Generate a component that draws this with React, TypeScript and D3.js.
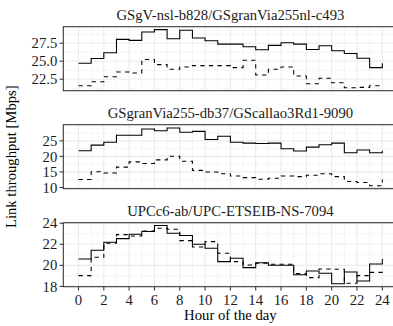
import React from "react";
import * as d3 from "d3";

const hours = d3.range(0, 25);
const xTicks = [0, 2, 4, 6, 8, 10, 12, 14, 16, 18, 20, 22, 24];

const titles = [
  "GSgV-nsl-b828/GSgranVia255nl-c493",
  "GSgranVia255-db37/GScallao3Rd1-9090",
  "UPCc6-ab/UPC-ETSEIB-NS-7094",
];

const p1Solid = [24.72, 25.37, 26.17, 28.04, 27.9, 29.07, 29.39, 28.13, 29.3, 28.22, 27.85, 27.38, 27.38, 27.0, 26.59, 27.2, 27.57, 27.38, 26.64, 27.15, 26.45, 26.07, 25.42, 24.11, 24.72];
const p1Dashed = [21.59, 22.15, 22.85, 23.5, 23.36, 25.23, 24.53, 23.88, 24.2, 24.39, 24.39, 24.39, 24.11, 25.14, 23.08, 23.88, 24.2, 22.94, 21.87, 22.62, 22.0, 21.31, 21.36, 21.59, 21.59];

const p2Solid = [21.83, 23.63, 24.58, 26.8, 26.8, 28.8, 28.27, 29.12, 27.75, 28.06, 25.42, 26.48, 24.58, 24.26, 24.16, 24.26, 22.47, 21.73, 22.99, 23.73, 24.26, 21.2, 22.04, 21.2, 21.83];
const p2Dashed = [12.54, 15.07, 14.65, 16.55, 18.24, 17.71, 18.88, 20.04, 18.45, 15.5, 14.97, 14.44, 13.7, 13.17, 12.64, 12.96, 13.7, 13.49, 13.91, 14.44, 13.49, 11.91, 11.59, 10.53, 12.54];

const p3Solid = [20.6, 21.43, 22.19, 22.54, 22.95, 23.21, 23.78, 23.05, 22.83, 22.0, 21.62, 20.35, 20.67, 19.78, 20.25, 20.0, 20.0, 19.11, 19.46, 19.24, 18.25, 19.37, 18.51, 20.13, 20.6];
const p3Dashed = [19.02, 20.76, 22.1, 22.92, 22.79, 23.27, 23.52, 23.43, 22.35, 21.75, 22.25, 21.14, 20.35, 20.03, 20.19, 20.1, 20.1, 19.21, 18.83, 19.65, 19.62, 18.29, 19.02, 19.33, 19.02];

const p1Ticks = [22.5, 25.0, 27.5];
const p2Ticks = [10, 15, 20, 25];
const p3Ticks = [18, 20, 22, 24];

const panels = [
  { title: titles[0], solid: p1Solid, dashed: p1Dashed, ticks: p1Ticks, domain: [20.9, 29.8], fmt: ".1f" },
  { title: titles[1], solid: p2Solid, dashed: p2Dashed, ticks: p2Ticks, domain: [9.6, 30.2], fmt: "d" },
  { title: titles[2], solid: p3Solid, dashed: p3Dashed, ticks: p3Ticks, domain: [17.97, 24.05], fmt: "d" },
];

const W = 393;
const H = 326;
const left = 63.3;
const right = 397.5;
const panelH = 64;
const tops = [26.7, 124.7, 222.7];
const font = "'Liberation Serif', 'Times New Roman', serif";
const fs = 14.7;
const grid = "#EBEBEB";
const dark = "#333333";

export default function App() {
  const x = d3.scaleLinear().domain([-1.2, 25.2]).range([left, right]);
  const xMinor = d3.range(1, 25, 2);
  return (
    <svg width={W} height={H} style={{ display: "block", position: "absolute", left: 0, top: 0 }} fontFamily={font}>
      <rect width={W} height={H} fill="white" />
      {panels.map((p, i) => {
        const top = tops[i];
        const bottom = top + panelH;
        const y = d3.scaleLinear().domain(p.domain).range([bottom, top]);
        const step = p.ticks[1] - p.ticks[0];
        const minor = d3
          .range(p.ticks[0] - step / 2, p.ticks[p.ticks.length - 1] + step, step)
          .filter((v) => v > p.domain[0] && v < p.domain[1]);
        const line = d3
          .line<number>()
          .x((_, j) => x(hours[j]))
          .y((v) => y(v))
          .curve(d3.curveStepAfter);
        const f = d3.format(p.fmt);
        return (
          <g key={i}>
            <rect x={left} y={top} width={right - left} height={panelH} fill="white" />
            {minor.map((v) => (
              <line key={"ym" + v} x1={left} x2={right} y1={y(v)} y2={y(v)} stroke={grid} strokeWidth={0.55} />
            ))}
            {xMinor.map((h) => (
              <line key={"xm" + h} x1={x(h)} x2={x(h)} y1={top} y2={bottom} stroke={grid} strokeWidth={0.55} />
            ))}
            {p.ticks.map((v) => (
              <line key={"yM" + v} x1={left} x2={right} y1={y(v)} y2={y(v)} stroke={grid} strokeWidth={1.1} />
            ))}
            {xTicks.map((h) => (
              <line key={"xM" + h} x1={x(h)} x2={x(h)} y1={top} y2={bottom} stroke={grid} strokeWidth={1.1} />
            ))}
            <path d={line(p.dashed) || ""} fill="none" stroke="black" strokeWidth={1.07} strokeDasharray="4.3,4.3" />
            <path d={line(p.solid) || ""} fill="none" stroke="black" strokeWidth={1.07} />
            <rect x={left} y={top} width={right - left} height={panelH} fill="none" stroke={dark} strokeWidth={1.07} />
            {p.ticks.map((v) => (
              <g key={"yt" + v}>
                <line x1={left - 3.7} x2={left} y1={y(v)} y2={y(v)} stroke={dark} strokeWidth={1.07} />
                <text x={left - 6} y={y(v)} dy="0.35em" textAnchor="end" fontSize={fs} fill="#1a1a1a">
                  {f(v)}
                </text>
              </g>
            ))}
            <text x={(left + right) / 2} y={top - 7} textAnchor="middle" fontSize={fs} fill="#1a1a1a">
              {p.title}
            </text>
            {i === 2 &&
              xTicks.map((h) => (
                <g key={"xt" + h}>
                  <line x1={x(h)} x2={x(h)} y1={bottom} y2={bottom + 3.7} stroke={dark} strokeWidth={1.07} />
                  <text x={x(h)} y={bottom + 18} textAnchor="middle" fontSize={fs} fill="#1a1a1a">
                    {h}
                  </text>
                </g>
              ))}
          </g>
        );
      })}
      <text x={(left + right) / 2} y={320} textAnchor="middle" fontSize={fs} fill="black">
        Hour of the day
      </text>
      <text
        transform={`translate(16, ${(tops[0] + tops[2] + panelH) / 2}) rotate(-90)`}
        textAnchor="middle"
        fontSize={fs}
        fill="black"
      >
        Link throughput [Mbps]
      </text>
    </svg>
  );
}
